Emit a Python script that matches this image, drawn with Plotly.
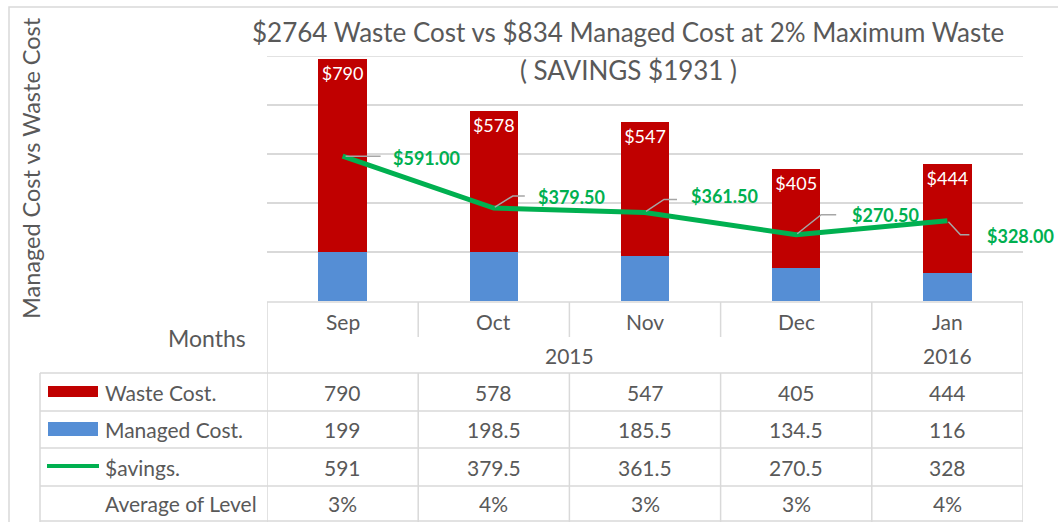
import plotly.graph_objects as go

months = ["Sep", "Oct", "Nov", "Dec", "Jan"]
years = ["2015", "2016"]
waste_cost = [790, 578, 547, 405, 444]
managed_cost = [199, 198.5, 185.5, 134.5, 116]
savings = [591, 379.5, 361.5, 270.5, 328]
avg_level = ["3%", "4%", "3%", "3%", "4%"]
row_labels = ["Waste Cost.", "Managed Cost.", "$avings.", "Average of Level"]
title_line1 = "$2764 Waste Cost vs $834 Managed Cost at 2% Maximum Waste"
title_line2 = "( SAVINGS $1931 )"
y_title = "Managed Cost vs Waste Cost"

RED = "#C00000"
BLUE = "#558ED5"
GREEN = "#00B050"
GRID = "#D9D9D9"
TXT = "#595959"
LEADER = "#A6A6A6"
FONT = "Lato, Open Sans, sans-serif"

W, H = 1058, 522
L, R, T, B = 267, 1023, 56, 301  # plot area in pixels
Y_MAX = 1000


def px(x):
    return (x - L) / (R - L)


def py(y):
    return (B - y) / (B - T)


x_idx = list(range(len(months)))

fig = go.Figure()
fig.add_trace(go.Bar(x=x_idx, y=managed_cost, marker_color=BLUE, marker_line_width=0,
                     name="Managed Cost."))
fig.add_trace(go.Bar(x=x_idx, y=waste_cost, marker_color=RED, marker_line_width=0,
                     name="Waste Cost.",
                     text=["$" + str(v) for v in waste_cost], textposition="inside",
                     insidetextanchor="end", textangle=0,
                     textfont=dict(color="white", size=18, family=FONT)))
fig.add_trace(go.Scatter(x=x_idx, y=savings, mode="lines",
                         line=dict(color=GREEN, width=5), name="$avings."))

shapes = []

# savings data labels with elbow leader lines (pixel offsets, y up)
label_shift = [(84, -2), (78, 11), (79, 16), (89, 20), (73, -15)]
leader_paths = [
    "M 3 0 L 38 0",
    "M 1 1 L 19 12 L 31 12",
    "M 1 1 L 19 13 L 32 13",
    "M 1 1 L 25 20 L 40 20",
    "M 1 -1 L 13 -14 L 22 -14",
]
for i, v in enumerate(savings):
    sx, sy = label_shift[i]
    fig.add_annotation(x=i, y=v, xref="x", yref="y", text="<b>$%.2f</b>" % v,
                       showarrow=False, xshift=sx, yshift=sy,
                       font=dict(color=GREEN, size=18, family=FONT))
    shapes.append(dict(type="path", xref="x", yref="y", xsizemode="pixel", ysizemode="pixel",
                       xanchor=i, yanchor=v, path=leader_paths[i],
                       line=dict(color=LEADER, width=1.5), layer="above"))


def txt(x, y, text, size=21, xref="paper", xanchor="center", **kw):
    fig.add_annotation(x=x, y=y, xref=xref, yref="paper", text=text, showarrow=False,
                       xanchor=xanchor, yanchor="middle",
                       font=dict(size=size, color=TXT, family=FONT), **kw)


# titles
txt(px(628), py(32), title_line1, size=26)
txt(px(628), py(70), title_line2, size=26)
txt(px(31), py(168), y_title, size=23.5, textangle=-90)

# chart border
shapes.append(dict(type="rect", xref="paper", yref="paper", x0=px(9), x1=px(1075),
                   y0=py(7), y1=py(540), line=dict(color=GRID, width=1.5)))


def hline(x0, x1, y, xref="paper"):
    shapes.append(dict(type="line", xref=xref, yref="paper", x0=x0, x1=x1, y0=py(y), y1=py(y),
                       line=dict(color=GRID, width=1.5)))


def vline(x, y0, y1, xref="x"):
    shapes.append(dict(type="line", xref=xref, yref="paper", x0=x, x1=x, y0=py(y0), y1=py(y1),
                       line=dict(color=GRID, width=1.5)))


# top gridline (value Y_MAX at plot top edge)
shapes.append(dict(type="line", xref="paper", yref="y", x0=0, x1=1, y0=Y_MAX, y1=Y_MAX,
                   line=dict(color=GRID, width=1.5), layer="below"))

# table grid
hline(px(267), px(1023), 302)
for yy in [373, 411, 448, 486, 521]:
    hline(px(40), px(1023), yy)
vline(px(40), 373, 522, xref="paper")
vline(-0.5, 302, 522)
for b in [0.5, 1.5, 2.5]:
    vline(b, 302, 337)
    vline(b, 373, 522)
vline(3.5, 302, 522)
vline(4.5, 302, 522)

# legend keys
shapes.append(dict(type="rect", xref="paper", yref="paper", x0=px(48), x1=px(98),
                   y0=py(386), y1=py(397), fillcolor=RED, line_width=0))
shapes.append(dict(type="rect", xref="paper", yref="paper", x0=px(48), x1=px(98),
                   y0=py(422), y1=py(436), fillcolor=BLUE, line_width=0))
shapes.append(dict(type="line", xref="paper", yref="paper", x0=px(47), x1=px(99),
                   y0=py(466), y1=py(466), line=dict(color=GREEN, width=4)))

fig.update_layout(shapes=shapes)

# header text
txt(px(248), py(338), "Months", size=23, xanchor="right")
for i, m in enumerate(months):
    txt(i, py(321), m, xref="x")
txt(1.5, py(355), years[0], xref="x")
txt(4, py(355), years[1], xref="x")


def fmt(v):
    return str(int(v)) if float(v).is_integer() else str(v)


rows = [[fmt(v) for v in waste_cost], [fmt(v) for v in managed_cost],
        [fmt(v) for v in savings], avg_level]
row_y = [392, 429, 467, 503]
for r, (lab, vals) in enumerate(zip(row_labels, rows)):
    txt(px(103), py(row_y[r]), lab, xanchor="left")
    for i, v in enumerate(vals):
        txt(i, py(row_y[r]), v, xref="x")

fig.update_layout(
    width=W, height=H,
    margin=dict(l=L, r=W - R, t=T, b=H - B, pad=0),
    barmode="stack", bargap=0.68,
    showlegend=False,
    plot_bgcolor="white", paper_bgcolor="white",
    font=dict(family=FONT, color=TXT),
    xaxis=dict(range=[-0.5, 4.5], showticklabels=False, showgrid=False, zeroline=False,
               showline=False, fixedrange=True),
    yaxis=dict(range=[0, Y_MAX], dtick=200, tick0=0, showticklabels=False, showgrid=True,
               gridcolor=GRID, gridwidth=1.5, zeroline=False, showline=False, fixedrange=True),
)

fig.write_html("out.html", config={"displayModeBar": False},
               post_script="document.body.style.margin='0';document.body.style.overflow='hidden';")
